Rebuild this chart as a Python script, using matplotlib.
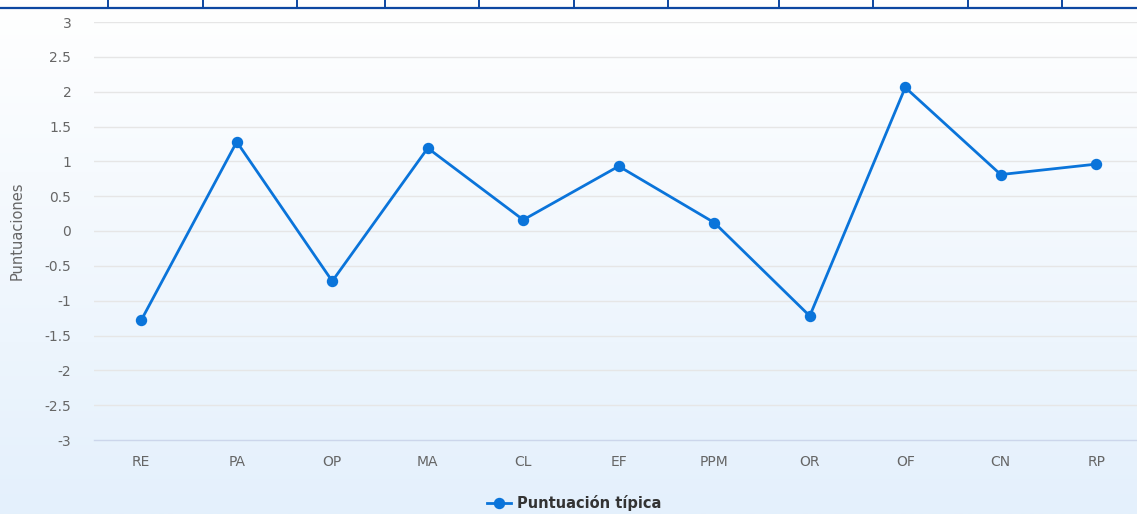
import numpy as np
import matplotlib
matplotlib.use("Agg")
import matplotlib.pyplot as plt
from matplotlib.lines import Line2D

categories = ["RE", "PA", "OP", "MA", "CL", "EF", "PPM", "OR", "OF", "CN", "RP"]
scores = [-1.28, 1.28, -0.72, 1.19, 0.16, 0.93, 0.12, -1.22, 2.06, 0.81, 0.96]
yticks = [-3, -2.5, -2, -1.5, -1, -0.5, 0, 0.5, 1, 1.5, 2, 2.5, 3]
ytick_labels = ["-3", "-2.5", "-2", "-1.5", "-1", "-0.5", "0", "0.5", "1", "1.5", "2", "2.5", "3"]
series_name = "Puntuación típica"
y_title = "Puntuaciones"

W, H = 1137, 514
fig = plt.figure(figsize=(W / 100, H / 100), dpi=100)

# background gradient
bg = fig.add_axes([0, 0, 1, 1], zorder=-10)
top = np.array([1.0, 1.0, 1.0])
bot = np.array([0xe4, 0xf0, 0xfc]) / 255
t = np.linspace(0, 1, 256)[:, None]
grad = top[None, :] * (1 - t) + bot[None, :] * t
bg.imshow(grad[:, None, :], aspect="auto", extent=[0, 1, 0, 1])
bg.axis("off")

# top decorative border
deco_x = [108, 203, 297, 385, 479, 574, 668, 779, 873, 968, 1062]
fig.add_artist(Line2D([0, 1], [1 - 8 / H, 1 - 8 / H], transform=fig.transFigure,
                      color="#0d47a1", lw=1.6))
for xv in deco_x:
    fig.add_artist(Line2D([xv / W, xv / W], [1 - 8 / H, 1.0], transform=fig.transFigure,
                          color="#0d47a1", lw=1.4))

left_px, right_px = 93.5, 1144
top_px, bot_px = 22, 440
ax = fig.add_axes([left_px / W, 1 - bot_px / H, (right_px - left_px) / W, (bot_px - top_px) / H])
ax.set_facecolor("none")
x = np.arange(len(categories))
ax.plot(x, scores, color="#0a74da", lw=2, marker="o", markersize=7.2,
        label=series_name, zorder=3, clip_on=False)
ax.set_xlim(-0.5, len(categories) - 0.5)
ax.set_ylim(-3, 3)
ax.set_yticks(yticks)
ax.set_yticklabels(ytick_labels)
ax.set_xticks(x)
ax.set_xticklabels(categories)
for yv in yticks:
    if yv != -3:
        ax.axhline(yv, color="#e6e6e6", lw=1, zorder=1)
for s in ["top", "right", "left"]:
    ax.spines[s].set_visible(False)
ax.spines["bottom"].set_color("#ccd6eb")
ax.spines["bottom"].set_linewidth(1)
ax.tick_params(axis="y", length=0, pad=16, labelsize=10, labelcolor="#666666")
ax.tick_params(axis="x", length=0, pad=11, labelsize=10, labelcolor="#666666")
ax.set_ylabel(y_title, color="#666666", fontsize=10.5)
ax.yaxis.set_label_coords(-0.066, 0.5)

leg = fig.legend(loc="center", bbox_to_anchor=(0.505, 1 - 503 / H), frameon=False,
                 prop={"weight": "bold", "size": 10.5}, handlelength=1.6, handletextpad=0.4)
for txt in leg.get_texts():
    txt.set_color("#333333")

fig.savefig("out.png", dpi=100)
